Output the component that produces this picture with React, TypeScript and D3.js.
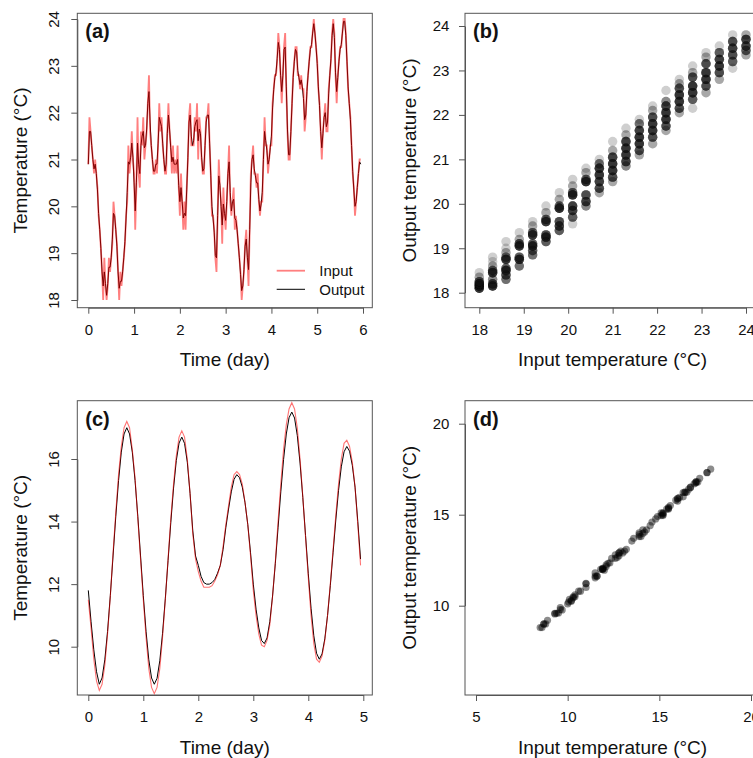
import React, { useEffect, useRef } from "react";
import * as d3 from "d3";

const FONT = "'Liberation Sans', Arial, Helvetica, sans-serif";

// (a) input / output temperature, one value every 0.025 day
const aStep = 0.025;
const aInput = [
  20.9, 21.9, 21.6, 21.3, 21.0, 20.7, 21.0, 20.7, 20.4, 19.8, 19.5, 19.1,
  18.6, 18.0, 18.9, 18.3, 18.0, 18.3, 18.9, 18.6, 18.9, 19.2, 20.1, 19.8,
  19.5, 19.2, 18.6, 18.0, 18.6, 18.3, 18.6, 18.9, 19.2, 19.8, 20.1, 21.3,
  20.7, 21.0, 21.6, 21.0, 20.7, 19.5, 20.4, 21.9, 20.7, 20.4, 21.6, 21.3,
  21.9, 21.0, 21.3, 21.6, 22.2, 22.8, 21.6, 21.3, 21.0, 20.7, 20.7, 21.0,
  20.7, 21.3, 22.2, 21.6, 21.9, 21.3, 21.0, 20.7, 20.7, 21.6, 22.2, 21.6,
  21.3, 20.7, 21.3, 20.7, 21.0, 20.7, 21.3, 20.4, 19.8, 20.7, 20.1, 19.5,
  20.1, 19.5, 20.4, 21.0, 21.9, 22.2, 21.3, 21.3, 21.3, 21.9, 21.6, 22.2,
  21.0, 21.9, 21.6, 21.0, 20.7, 20.7, 21.3, 21.9, 21.9, 22.2, 21.3, 20.7,
  19.8, 19.8, 19.5, 18.9, 18.6, 19.8, 21.0, 20.4, 20.1, 19.2, 20.4, 19.8,
  19.5, 20.1, 20.7, 21.3, 20.1, 19.8, 20.1, 20.4, 19.5, 19.8, 19.5, 19.2,
  18.9, 18.6, 18.0, 18.3, 18.6, 19.2, 19.5, 18.9, 18.3, 19.5, 20.7, 21.0,
  21.3, 20.7, 20.7, 20.4, 20.7, 20.1, 19.8, 20.1, 20.1, 21.0, 21.9, 21.3,
  21.3, 20.7, 21.0, 21.3, 21.3, 22.2, 22.5, 22.8, 22.8, 23.1, 23.7, 23.4,
  22.8, 22.2, 22.8, 23.4, 23.7, 22.5, 21.6, 21.0, 21.0, 21.6, 22.2, 22.8,
  23.1, 23.4, 23.4, 22.8, 22.8, 22.5, 22.8, 22.5, 22.5, 21.6, 21.9, 22.5,
  22.8, 23.1, 23.4, 23.4, 23.7, 24.0, 23.7, 23.4, 23.1, 22.5, 22.2, 21.6,
  21.0, 21.6, 21.9, 22.2, 21.6, 21.6, 22.5, 22.8, 23.1, 23.7, 24.0, 23.7,
  22.8, 22.2, 22.8, 23.1, 23.4, 23.4, 23.7, 24.0, 24.0, 23.7, 23.1, 22.5,
  22.2, 21.9, 21.3, 20.7, 20.4, 19.8, 20.1, 20.4, 20.7, 21.0, 21.0,
];
const aOutput = [
  20.9, 21.6, 21.6, 21.3, 21.0, 20.8, 20.9, 20.7, 20.35, 19.85, 19.5, 19.1,
  18.6, 18.3, 18.6, 18.35, 18.1, 18.35, 18.7, 18.7, 18.9, 19.3, 19.85, 19.8,
  19.5, 19.15, 18.6, 18.25, 18.4, 18.4, 18.6, 18.9, 19.25, 19.75, 20.3, 20.95,
  20.9, 21.05, 21.35, 21.05, 20.5, 19.9, 20.5, 21.35, 20.9, 20.7, 21.3, 21.5,
  21.6, 21.25, 21.3, 21.65, 22.2, 22.45, 21.8, 21.3, 21.0, 20.75, 20.75, 20.9,
  20.9, 21.35, 21.9, 21.8, 21.7, 21.35, 21.0, 20.75, 20.9, 21.55, 21.95, 21.65,
  21.25, 20.95, 21.05, 20.9, 20.9, 20.9, 21.0, 20.45, 20.1, 20.4, 20.1, 19.75,
  19.85, 19.8, 20.35, 21.05, 21.8, 21.95, 21.5, 21.3, 21.4, 21.7, 21.8, 21.85,
  21.4, 21.65, 21.55, 21.05, 20.75, 20.8, 21.3, 21.8, 21.95, 21.95, 21.35, 20.65,
  20.0, 19.75, 19.45, 18.95, 18.9, 19.8, 20.65, 20.45, 20.0, 19.6, 20.05, 19.85,
  19.7, 20.1, 20.7, 20.95, 20.3, 19.9, 20.1, 20.15, 19.75, 19.7, 19.5, 19.2,
  18.9, 18.55, 18.2, 18.3, 18.65, 19.15, 19.3, 18.9, 18.65, 19.5, 20.5, 21.0,
  21.1, 20.8, 20.65, 20.5, 20.5, 20.15, 19.9, 20.05, 20.3, 21.0, 21.6, 21.4,
  21.2, 20.9, 21.0, 21.25, 21.5, 22.1, 22.5, 22.75, 22.85, 23.15, 23.5, 23.35,
  22.8, 22.45, 22.8, 23.35, 23.4, 22.55, 21.65, 21.1, 21.1, 21.6, 22.2, 22.75,
  23.1, 23.35, 23.3, 22.9, 22.75, 22.6, 22.7, 22.55, 22.3, 21.85, 21.95, 22.45,
  22.8, 23.1, 23.35, 23.45, 23.7, 23.9, 23.7, 23.4, 23.05, 22.55, 22.15, 21.6,
  21.25, 21.55, 21.9, 22.0, 21.7, 21.8, 22.4, 22.8, 23.15, 23.65, 23.9, 23.6,
  22.85, 22.45, 22.75, 23.1, 23.35, 23.45, 23.7, 23.95, 23.95, 23.65, 23.1, 22.55,
  22.2, 21.85, 21.3, 20.75, 20.35, 20.0, 20.1, 20.4, 20.7, 20.95, 20.9,
];

// (b) input levels and the output readings seen at each level: [output, count]
const bInput = [18.0, 18.3, 18.6, 18.9, 19.2, 19.5, 19.8, 20.1, 20.4, 20.7, 21.0, 21.3, 21.6, 21.9, 22.2, 22.5, 22.8, 23.1, 23.4, 23.7, 24.0];
const bOutput = [
  [[18.1, 8], [18.15, 10], [18.2, 10], [18.25, 6], [18.35, 2], [18.45, 1]],
  [[18.15, 8], [18.2, 6], [18.3, 3], [18.45, 8], [18.5, 5], [18.6, 2], [18.7, 1], [18.8, 1]],
  [[18.3, 4], [18.4, 6], [18.5, 8], [18.55, 5], [18.75, 8], [18.8, 4], [18.9, 2], [19.0, 1], [19.15, 1]],
  [[18.6, 4], [18.75, 8], [18.8, 5], [19.05, 8], [19.1, 6], [19.2, 2], [19.35, 1]],
  [[18.85, 4], [18.95, 5], [19.05, 8], [19.1, 5], [19.3, 8], [19.35, 5], [19.5, 2], [19.6, 1]],
  [[19.15, 5], [19.25, 8], [19.3, 6], [19.6, 8], [19.65, 5], [19.8, 2], [19.95, 1]],
  [[19.4, 5], [19.5, 7], [19.6, 6], [19.9, 9], [19.95, 5], [20.1, 2], [20.25, 1]],
  [[19.55, 1], [19.7, 5], [19.85, 7], [19.95, 7], [20.2, 9], [20.25, 5], [20.4, 2], [20.55, 1]],
  [[19.95, 3], [20.05, 7], [20.2, 6], [20.5, 9], [20.55, 5], [20.7, 2], [20.8, 1]],
  [[20.25, 2], [20.35, 6], [20.5, 7], [20.65, 8], [20.8, 8], [20.9, 4], [21.0, 1]],
  [[20.5, 2], [20.6, 6], [20.75, 8], [20.9, 8], [21.05, 7], [21.2, 2], [21.4, 1]],
  [[20.85, 3], [20.95, 7], [21.1, 8], [21.25, 8], [21.4, 7], [21.55, 2], [21.7, 1]],
  [[21.1, 2], [21.2, 6], [21.35, 8], [21.5, 8], [21.65, 7], [21.8, 4], [21.9, 1]],
  [[21.35, 2], [21.5, 6], [21.65, 8], [21.8, 8], [21.95, 6], [22.1, 2], [22.2, 1]],
  [[21.65, 2], [21.75, 6], [21.9, 8], [22.05, 8], [22.2, 7], [22.3, 3], [22.55, 1]],
  [[22.05, 2], [22.15, 6], [22.3, 8], [22.45, 8], [22.6, 6], [22.7, 2], [22.8, 1]],
  [[22.15, 1], [22.35, 5], [22.5, 8], [22.65, 8], [22.85, 6], [22.95, 2], [23.1, 1]],
  [[22.5, 2], [22.65, 6], [22.8, 8], [22.95, 8], [23.15, 6], [23.3, 2], [23.4, 1]],
  [[22.8, 2], [22.95, 6], [23.1, 8], [23.25, 7], [23.4, 5], [23.55, 1]],
  [[23.05, 1], [23.2, 5], [23.35, 6], [23.5, 7], [23.65, 6], [23.8, 1]],
  [[23.35, 2], [23.45, 5], [23.55, 7], [23.7, 7], [23.8, 2]],
];

// (c) input / output temperature, one value every 0.05 day; (d) plots the same pairs
const cStep = 0.05;
const cInput = [
  11.5, 10.6, 9.6, 8.9, 8.6, 8.8, 9.4, 10.4, 11.6, 13.0,
  14.3, 15.5, 16.4, 17.0, 17.2, 17.0, 16.3, 15.4, 14.1, 12.8,
  11.5, 10.3, 9.3, 8.7, 8.5, 8.7, 9.3, 10.3, 11.5, 12.8,
  14.1, 15.2, 16.1, 16.7, 16.9, 16.7, 16.0, 14.9, 13.6, 12.8,
  12.4, 12.1, 11.9, 11.9, 11.9, 11.95, 12.1, 12.3, 12.6, 13.2,
  13.9, 14.5, 15.1, 15.5, 15.6, 15.5, 15.2, 14.6, 13.9, 12.9,
  11.8, 11.0, 10.4, 10.05, 10.0, 10.2, 10.7, 11.6, 12.7, 14.0,
  15.2, 16.3, 17.1, 17.6, 17.8, 17.6, 17.0, 16.0, 14.8, 13.5,
  12.2, 11.0, 10.1, 9.6, 9.5, 9.7, 10.2, 11.0, 12.0, 13.1,
  14.2, 15.2, 16.0, 16.5, 16.6, 16.4, 15.9, 15.1, 13.9, 12.6,
];
const cOutput = [
  11.8, 10.8, 9.9, 9.2, 8.8, 9.0, 9.58, 10.49, 11.63, 12.9,
  14.17, 15.31, 16.22, 16.8, 17.0, 16.8, 16.22, 15.31, 14.17, 12.9,
  11.63, 10.49, 9.58, 9.0, 8.8, 8.99, 9.55, 10.43, 11.53, 12.75,
  13.97, 15.07, 15.95, 16.51, 16.7, 16.5, 15.9, 14.9, 13.7, 12.9,
  12.6, 12.25, 12.05, 12.0, 12.0, 12.05, 12.15, 12.35, 12.6, 13.1,
  13.8, 14.4, 14.95, 15.35, 15.5, 15.4, 15.1, 14.6, 13.9, 13.0,
  12.0, 11.2, 10.6, 10.2, 10.1, 10.28, 10.8, 11.62, 12.65, 13.8,
  14.95, 15.98, 16.8, 17.32, 17.5, 17.31, 16.75, 15.87, 14.77, 13.55,
  12.33, 11.23, 10.35, 9.79, 9.6, 9.77, 10.25, 11.0, 11.95, 13.0,
  14.05, 15.0, 15.75, 16.23, 16.4, 16.25, 15.8, 15.1, 14.0, 12.8,
];

const legendLabels = ["Input", "Output"];

const aXTicks = [0, 1, 2, 3, 4, 5, 6];
const aYTicks = [18, 19, 20, 21, 22, 23, 24];
const bXTicks = [18, 19, 20, 21, 22, 23, 24];
const bYTicks = [18, 19, 20, 21, 22, 23, 24];
const cXTicks = [0, 1, 2, 3, 4, 5];
const cYTicks = [10, 12, 14, 16];
const dXTicks = [5, 10, 15, 20];
const dYTicks = [10, 15, 20];

const AXIS = "#555";
const fmt = d3.format("d");

function frame(svg, o) {
  const g = svg.append("g");
  g.append("rect")
    .attr("x", o.box[0])
    .attr("y", o.box[1])
    .attr("width", o.box[2] - o.box[0])
    .attr("height", o.box[3] - o.box[1])
    .attr("fill", "none")
    .attr("stroke", AXIS);

  const xa = g
    .append("g")
    .attr("transform", `translate(0,${o.box[3]})`)
    .call(d3.axisBottom(o.x).tickValues(o.xTicks).tickFormat(fmt).tickSize(6).tickSizeOuter(0).tickPadding(10.5));
  const ya = g
    .append("g")
    .attr("transform", `translate(${o.box[0]},0)`)
    .call(d3.axisLeft(o.y).tickValues(o.yTicks).tickFormat(fmt).tickSize(6).tickSizeOuter(0).tickPadding(9.7));

  [xa, ya].forEach((a) => {
    a.select(".domain").attr("stroke", AXIS);
    a.selectAll(".tick line").attr("stroke", AXIS);
    a.selectAll("text").attr("font-family", FONT).attr("font-size", 15).attr("fill", "#111");
  });

  if (o.rotY) {
    ya.selectAll("text")
      .attr("x", 0)
      .attr("dy", null)
      .attr("text-anchor", "middle")
      .attr("transform", `translate(${59 - o.box[0]},0) rotate(-90)`);
  }

  g.append("text")
    .attr("x", (o.box[0] + o.box[2]) / 2)
    .attr("y", o.box[3] + 58.6)
    .attr("text-anchor", "middle")
    .attr("font-family", FONT)
    .attr("font-size", 19)
    .attr("fill", "#111")
    .text(o.xTitle);

  const cy = (o.box[1] + o.box[3]) / 2;
  g.append("text")
    .attr("transform", `translate(${o.yTitleX},${cy}) rotate(-90)`)
    .attr("text-anchor", "middle")
    .attr("font-family", FONT)
    .attr("font-size", 19)
    .attr("fill", "#111")
    .text(o.yTitle);

  g.append("text")
    .attr("x", o.box[0] + 8)
    .attr("y", o.box[1] + 25)
    .attr("font-family", FONT)
    .attr("font-size", 20)
    .attr("font-weight", "bold")
    .attr("fill", "#111")
    .text(o.tag);
  return g;
}

const App = () => {
  const svgRef = useRef(null);

  useEffect(() => {
    document.body.style.margin = "0";
    const svg = d3.select(svgRef.current);
    svg.selectAll("*").remove();

    // ---- (a) time series ----
    const aBox = [77.3, 13.3, 372.3, 307.7];
    const ax = d3.scaleLinear().domain([0, 6]).range([88.3, 363]);
    const ay = d3.scaleLinear().domain([18, 24]).range([300, 19]);
    frame(svg, {
      box: aBox, x: ax, y: ay, xTicks: aXTicks, yTicks: aYTicks, rotY: true,
      xTitle: "Time (day)", yTitle: "Temperature (°C)", yTitleX: 27, tag: "(a)",
    });
    const aN = Math.min(aInput.length, aOutput.length);
    const aLine = (vals) =>
      d3.line().x((d, i) => ax(i * aStep)).y((d) => ay(d))(vals.slice(0, aN));
    svg.append("path").attr("d", aLine(aOutput)).attr("fill", "none").attr("stroke", "#000").attr("stroke-width", 1);
    svg.append("path").attr("d", aLine(aInput)).attr("fill", "none").attr("stroke", "red")
      .attr("stroke-opacity", 0.5).attr("stroke-width", 1.8);

    const leg = svg.append("g").attr("transform", "translate(276.7,270.7)");
    legendLabels.forEach((lab, i) => {
      leg.append("line").attr("x1", 0).attr("x2", 28.3).attr("y1", i * 18.6).attr("y2", i * 18.6)
        .attr("stroke", i === 0 ? "red" : "#000")
        .attr("stroke-opacity", i === 0 ? 0.5 : 1)
        .attr("stroke-width", i === 0 ? 1.8 : 1);
      leg.append("text").attr("x", 42.6).attr("y", i * 18.6 + 5.6)
        .attr("font-family", FONT).attr("font-size", 15).attr("fill", "#111").text(lab);
    });

    // ---- (b) input vs output ----
    const bBox = [465, 13.3, 760, 307.7];
    const bx = d3.scaleLinear().domain([18, 24]).range([479.3, 746]);
    const by = d3.scaleLinear().domain([18, 24]).range([292.7, 26]);
    frame(svg, {
      box: bBox, x: bx, y: by, xTicks: bXTicks, yTicks: bYTicks, rotY: false,
      xTitle: "Input temperature (°C)", yTitle: "Output temperature (°C)", yTitleX: 415.5, tag: "(b)",
    });
    const bPts = [];
    bInput.forEach((inp, k) => {
      bOutput[k].forEach(([out, n]) => {
        d3.range(n).forEach(() => bPts.push([inp, out]));
      });
    });
    svg.append("g").selectAll("circle").data(bPts).enter().append("circle")
      .attr("cx", (d) => bx(d[0])).attr("cy", (d) => by(d[1])).attr("r", 4.7)
      .attr("fill", "#111").attr("fill-opacity", 0.2);

    // ---- (c) smooth series ----
    const cBox = [77.3, 400.7, 372.3, 695];
    const cx = d3.scaleLinear().domain([0, 5]).range([88.3, 363.3]);
    const cy = d3.scaleLinear().domain([10, 16]).range([646.7, 459]);
    frame(svg, {
      box: cBox, x: cx, y: cy, xTicks: cXTicks, yTicks: cYTicks, rotY: true,
      xTitle: "Time (day)", yTitle: "Temperature (°C)", yTitleX: 27, tag: "(c)",
    });
    const cLine = d3.line().x((d, i) => cx(i * cStep)).y((d) => cy(d));
    svg.append("path").attr("d", cLine(cOutput)).attr("fill", "none").attr("stroke", "#000").attr("stroke-width", 1);
    svg.append("path").attr("d", cLine(cInput)).attr("fill", "none").attr("stroke", "red")
      .attr("stroke-opacity", 0.55).attr("stroke-width", 1.1);

    // ---- (d) input vs output ----
    const dBox = [465, 400.7, 760, 695];
    const dx = d3.scaleLinear().domain([5, 20]).range([476, 751]);
    const dy = d3.scaleLinear().domain([10, 20]).range([605.7, 423.7]);
    frame(svg, {
      box: dBox, x: dx, y: dy, xTicks: dXTicks, yTicks: dYTicks, rotY: false,
      xTitle: "Input temperature (°C)", yTitle: "Output temperature (°C)", yTitleX: 415.5, tag: "(d)",
    });
    svg.append("g").selectAll("circle").data(d3.zip(cInput, cOutput)).enter().append("circle")
      .attr("cx", (d) => dx(d[0])).attr("cy", (d) => dy(d[1])).attr("r", 3.6)
      .attr("fill", "#000").attr("fill-opacity", 0.45);
  }, []);

  return <svg ref={svgRef} width={753} height={758} style={{ display: "block", background: "#fff" }}></svg>;
};

export default App;
